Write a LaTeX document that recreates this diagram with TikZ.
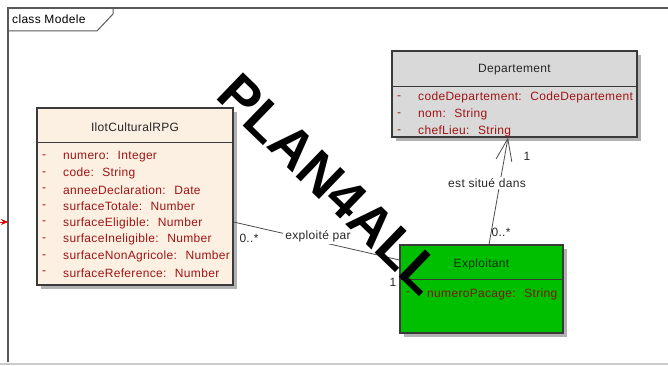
\documentclass[tikz,border=0pt]{standalone}
\usepackage{fontspec}
\setmainfont{Liberation Sans}
\newfontfamily\eafont{Liberation Sans}[LetterSpace=2.7]
\usepackage{tikz}
\usetikzlibrary{arrows.meta,shadows}

\definecolor{ilotfill}{HTML}{FBF0E2}
\definecolor{depfill}{HTML}{D9D9D9}
\definecolor{expfill}{HTML}{00BE00}
\definecolor{attrred}{HTML}{A01414}
\definecolor{exptext}{HTML}{7A1A00}
\definecolor{boxline}{HTML}{3A3A3A}

\begin{document}
\begin{tikzpicture}[x=1pt,y=-1pt,
	classbox/.style={draw=boxline,line width=1.1pt,inner sep=0pt,
		drop shadow={shadow xshift=4pt,shadow yshift=-4pt,opacity=0.3,fill=black}},
	classname/.style={font=\eafont\fontsize{12}{14}\selectfont,text=black!85},
	attr/.style={anchor=west,inner sep=0pt,font=\eafont\fontsize{12}{14}\selectfont,text=attrred},
	mult/.style={inner sep=1pt,font=\eafont\fontsize{12}{14}\selectfont,text=black!85},
	assoc/.style={draw=black!70,line width=0.8pt}]
	\useasboundingbox (0,0) rectangle (668,366);
	% frame
	\draw [black!20,line width=1.2pt] (0,364) -- (668,364);
	\draw [black!65,line width=1.5pt] (8,362) -- (8,8) -- (668,8);
	\draw [black!65,line width=1pt] (8,31) -- (97,31) -- (113,14) -- (113,8);
	\node [anchor=west,inner sep=0pt,font=\eafont\fontsize{12}{14}\selectfont] (frametitle) at (12,19) {class Modele};
	\coordinate (offpage) at (-2,222);
	\coordinate (framein) at (8,222);
	\draw [-{Stealth[length=7pt,width=6pt]},red!85!black,line width=0.8pt] (offpage) -- (framein);

	% classes
	\node [classbox,fill=ilotfill,minimum width=196pt,minimum height=177pt] (ilot) at (135,196.5) {};
	\draw [boxline,line width=1.1pt] ([yshift=-35pt]ilot.north west) -- ([yshift=-35pt]ilot.north east);
	\node [classname] (ilottitle) at ([yshift=-20pt]ilot.north) {IlotCulturalRPG};
	\foreach \a [count=\i] in {numero:~ Integer,code:~ String,anneeDeclaration:~ Date,surfaceTotale:~ Number,surfaceEligible:~ Number,surfaceIneligible:~ Number,surfaceNonAgricole:~ Number,surfaceReference:~ Number}
	{
		\node [attr] (ilotdash\i) at (42,140+16.6*\i) {-};
		\node [attr] (ilotattr\i) at (63,140+16.6*\i) {\a};
	}

	\node [classbox,fill=depfill,minimum width=245pt,minimum height=86pt] (dep) at (514.5,94) {};
	\draw [boxline,line width=1.1pt] ([yshift=-36pt]dep.north west) -- ([yshift=-36pt]dep.north east);
	\node [classname] (deptitle) at ([yshift=-19pt]dep.north) {Departement};
	\foreach \a [count=\i] in {codeDepartement:~ CodeDepartement,nom:~ String,chefLieu:~ String}
	{
		\node [attr] (depdash\i) at (397,81+16.8*\i) {-};
		\node [attr] (depattr\i) at (418,81+16.8*\i) {\a};
	}

	\node [classbox,fill=expfill,minimum width=163pt,minimum height=88pt] (exploit) at (481.5,289) {};
	\draw [boxline,line width=1.1pt] ([yshift=-35pt]exploit.north west) -- ([yshift=-35pt]exploit.north east);
	\node [classname,text=black!80!green] (exptitle) at ([yshift=-20pt]exploit.north) {Exploitant};
	\node [attr,text=exptext] (expdash1) at (406,294) {-};
	\node [attr,text=exptext] (expattr1) at (427,294) {numeroPacage:~ String};

	% associations
	\draw [assoc] ([yshift=-25.5pt]ilot.east) -- ([yshift=29pt]exploit.west);
	\node [mult,fill=white,inner sep=2pt] (exploitepar) at (318,236) {exploité par};
	\node [mult] (ilotmult) at (249,238) {0..*};
	\node [mult] (expmult) at (393,282) {1};

	\draw [assoc,-{Straight Barb[length=22pt,width=16pt]}] ([xshift=7.5pt]exploit.north) -- ([xshift=-6.5pt]dep.south);
	\node [mult,fill=white,inner sep=2pt] (estsitue) at (487,183) {est situé dans};
	\node [mult] (depmult) at (527,156) {1};
	\node [mult] (expmult2) at (501,232) {0..*};

	% watermark
	\node [rotate=-44,font=\fontsize{55}{55}\selectfont\bfseries] (wmark) at (331,184) {PLAN4ALL};
\end{tikzpicture}
\end{document}
